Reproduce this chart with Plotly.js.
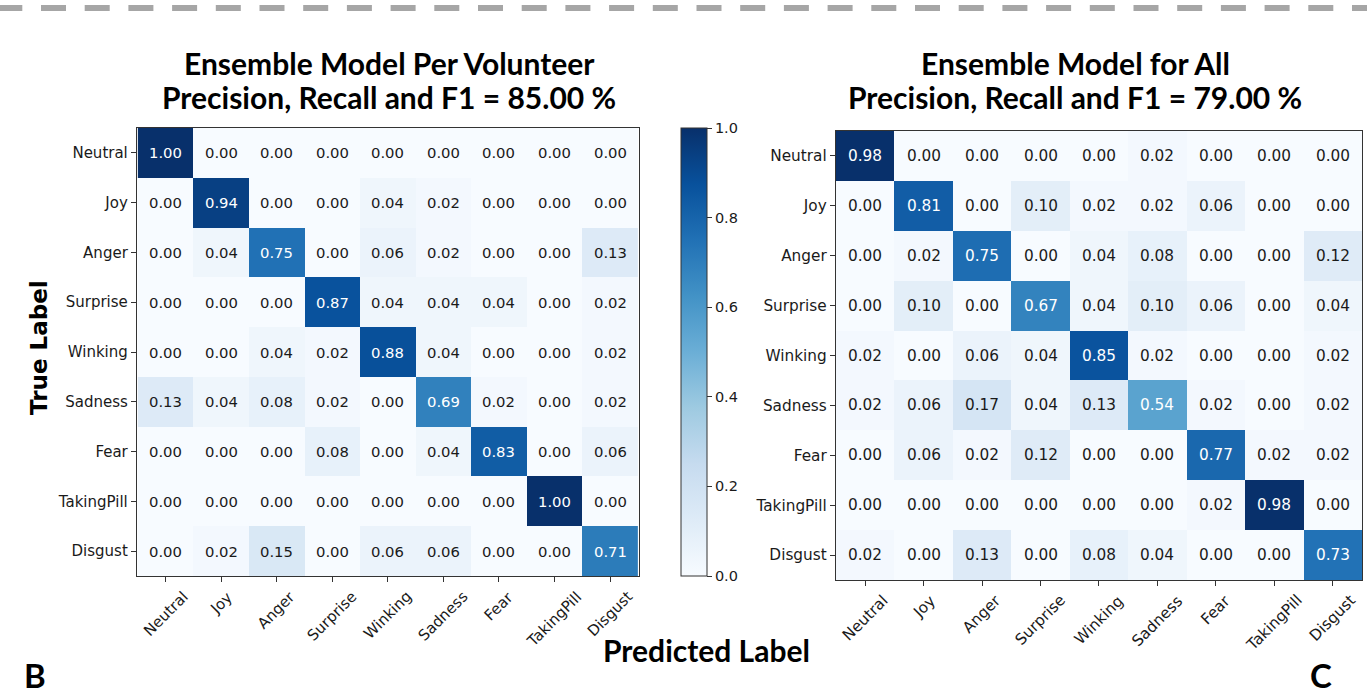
<!DOCTYPE html>
<html>
<head>
<meta charset="utf-8">
<script src="https://cdn.plot.ly/plotly-3.0.1.min.js"></script>
<style>
html,body{margin:0;padding:0;background:#fff;}
#chart{width:1367px;height:697px;}
</style>
</head>
<body>
<div id="chart"></div>
<script>
// ---------- data ----------
const categories = ['Neutral','Joy','Anger','Surprise','Winking','Sadness','Fear','TakingPill','Disgust'];

const perVolunteer = [
  [1.00,0.00,0.00,0.00,0.00,0.00,0.00,0.00,0.00],
  [0.00,0.94,0.00,0.00,0.04,0.02,0.00,0.00,0.00],
  [0.00,0.04,0.75,0.00,0.06,0.02,0.00,0.00,0.13],
  [0.00,0.00,0.00,0.87,0.04,0.04,0.04,0.00,0.02],
  [0.00,0.00,0.04,0.02,0.88,0.04,0.00,0.00,0.02],
  [0.13,0.04,0.08,0.02,0.00,0.69,0.02,0.00,0.02],
  [0.00,0.00,0.00,0.08,0.00,0.04,0.83,0.00,0.06],
  [0.00,0.00,0.00,0.00,0.00,0.00,0.00,1.00,0.00],
  [0.00,0.02,0.15,0.00,0.06,0.06,0.00,0.00,0.71]
];

const forAll = [
  [0.98,0.00,0.00,0.00,0.00,0.02,0.00,0.00,0.00],
  [0.00,0.81,0.00,0.10,0.02,0.02,0.06,0.00,0.00],
  [0.00,0.02,0.75,0.00,0.04,0.08,0.00,0.00,0.12],
  [0.00,0.10,0.00,0.67,0.04,0.10,0.06,0.00,0.04],
  [0.02,0.00,0.06,0.04,0.85,0.02,0.00,0.00,0.02],
  [0.02,0.06,0.17,0.04,0.13,0.54,0.02,0.00,0.02],
  [0.00,0.06,0.02,0.12,0.00,0.00,0.77,0.02,0.02],
  [0.00,0.00,0.00,0.00,0.00,0.00,0.02,0.98,0.00],
  [0.02,0.00,0.13,0.00,0.08,0.04,0.00,0.00,0.73]
];

const titleLeft = ['Ensemble Model Per Volunteer', 'Precision, Recall and F1 = 85.00 %'];
const titleRight = ['Ensemble Model for All', 'Precision, Recall and F1 = 79.00 %'];
const colorbarTicks = [0, 0.2, 0.4, 0.6, 0.8, 1.0];

// ---------- style ----------
const W = 1367, H = 697;
const px = v => v / W;
const py = v => 1 - v / H;

const bluesHex = ['#f7fbff','#deebf7','#c6dbef','#9ecae1','#6baed6','#4292c6','#2171b5','#08519c','#08306b'];
const blues = bluesHex.map((c, i) => [i / (bluesHex.length - 1), c]);

const tickFont = {family: 'DejaVu Sans', size: 15, color: '#1a1a1a'};
const cellFontL = {family: 'DejaVu Sans', size: 14.8};
const cellFontR = {family: 'DejaVu Sans', size: 15.3};

const zmaxL = Math.max(...perVolunteer.flat());
const zmaxR = Math.max(...forAll.flat());

const traces = [
  {
    type: 'heatmap', x: categories, y: categories, z: perVolunteer,
    xaxis: 'x', yaxis: 'y', colorscale: blues, zmin: 0, zmax: zmaxL,
    hoverinfo: 'skip',
    colorbar: {
      x: px(681), xanchor: 'left', y: py(352), yanchor: 'middle',
      thickness: 26, thicknessmode: 'pixels', len: 448, lenmode: 'pixels',
      xpad: 0, ypad: 0, outlinewidth: 1, outlinecolor: '#333',
      tickvals: colorbarTicks, tickformat: '.1f', ticks: 'outside', ticklen: 5,
      tickcolor: '#333', tickfont: {family: 'DejaVu Sans', size: 14.5, color: '#1a1a1a'}
    }
  },
  {
    type: 'heatmap', x: categories, y: categories, z: forAll,
    xaxis: 'x2', yaxis: 'y2', colorscale: blues, zmin: 0, zmax: zmaxR,
    hoverinfo: 'skip', showscale: false
  }
];

function axisCommon(extra) {
  return Object.assign({
    type: 'category', showgrid: false, zeroline: false,
    showline: true, mirror: true, linecolor: '#333', linewidth: 1.2,
    ticks: 'outside', ticklen: 5, tickcolor: '#333', tickwidth: 1,
    tickfont: tickFont, fixedrange: true
  }, extra);
}

const annotations = [];

function addCells(z, xref, yref, zmax, font) {
  z.forEach((row, i) => row.forEach((v, j) => {
    annotations.push({
      x: categories[j], y: categories[i], xref: xref, yref: yref,
      text: v.toFixed(2), showarrow: false,
      font: Object.assign({}, font, {color: v > zmax / 2 ? '#ffffff' : '#1a1a1a'})
    });
  }));
}
addCells(perVolunteer, 'x', 'y', zmaxL, cellFontL);
addCells(forAll, 'x2', 'y2', zmaxR, cellFontR);

function addXLabels(xref, yref, size) {
  categories.forEach(c => {
    annotations.push({
      x: c, xref: xref, y: 0, yref: yref + ' domain', yshift: -9,
      xanchor: 'center', yanchor: 'top', textangle: -45, showarrow: false,
      text: c, font: {family: 'DejaVu Sans', size: size, color: '#1a1a1a'}
    });
  });
}
addXLabels('x', 'y', 15);
addXLabels('x2', 'y2', 15.3);

function addTitle(lines, cx) {
  const ys = [63, 97];
  lines.forEach((t, k) => {
    annotations.push({
      x: px(cx), y: py(ys[k]), xref: 'paper', yref: 'paper',
      xanchor: 'center', yanchor: 'middle', showarrow: false, text: '<b>' + t + '</b>',
      font: {family: 'Lato', size: 30, color: '#000'}
    });
  });
}
addTitle(titleLeft, 389);
addTitle(titleRight, 1075);

annotations.push({
  x: px(39), y: py(348), xref: 'paper', yref: 'paper', xanchor: 'center', yanchor: 'middle',
  textangle: -90, showarrow: false, text: '<b>True Label</b>',
  font: {family: 'DejaVu Sans', size: 23, color: '#000'}
});
annotations.push({
  x: px(706), y: py(650), xref: 'paper', yref: 'paper', xanchor: 'center', yanchor: 'middle',
  showarrow: false, text: '<b>Predicted Label</b>',
  font: {family: 'Lato', size: 30, color: '#000'}
});
annotations.push({
  x: px(35), y: py(675), xref: 'paper', yref: 'paper', xanchor: 'center', yanchor: 'middle',
  showarrow: false, text: '<b>B</b>', font: {family: 'Lato', size: 33, color: '#000'}
});
annotations.push({
  x: px(1321), y: py(675), xref: 'paper', yref: 'paper', xanchor: 'center', yanchor: 'middle',
  showarrow: false, text: '<b>C</b>', font: {family: 'Lato', size: 33, color: '#000'}
});

const layout = {
  width: W, height: H, margin: {l: 0, r: 0, t: 0, b: 0},
  paper_bgcolor: '#fff', plot_bgcolor: '#fff', showlegend: false,
  xaxis: axisCommon({domain: [px(137), px(639)], anchor: 'y', showticklabels: false}),
  yaxis: axisCommon({domain: [py(576), py(128)], anchor: 'x', autorange: 'reversed'}),
  xaxis2: axisCommon({domain: [px(836), px(1362)], anchor: 'y2', showticklabels: false}),
  yaxis2: axisCommon({domain: [py(580), py(131)], anchor: 'x2', autorange: 'reversed',
    tickfont: {family: 'DejaVu Sans', size: 15.3, color: '#1a1a1a'}}),
  annotations: annotations,
  shapes: [{
    type: 'line', xref: 'paper', yref: 'paper', x0: px(-2.7), x1: 1, y0: py(8), y1: py(8),
    line: {color: '#a6a6a6', width: 6, dash: '25px,18.7px'}
  }]
};

Plotly.newPlot('chart', traces, layout, {displayModeBar: false, staticPlot: true});
</script>
</body>
</html>
